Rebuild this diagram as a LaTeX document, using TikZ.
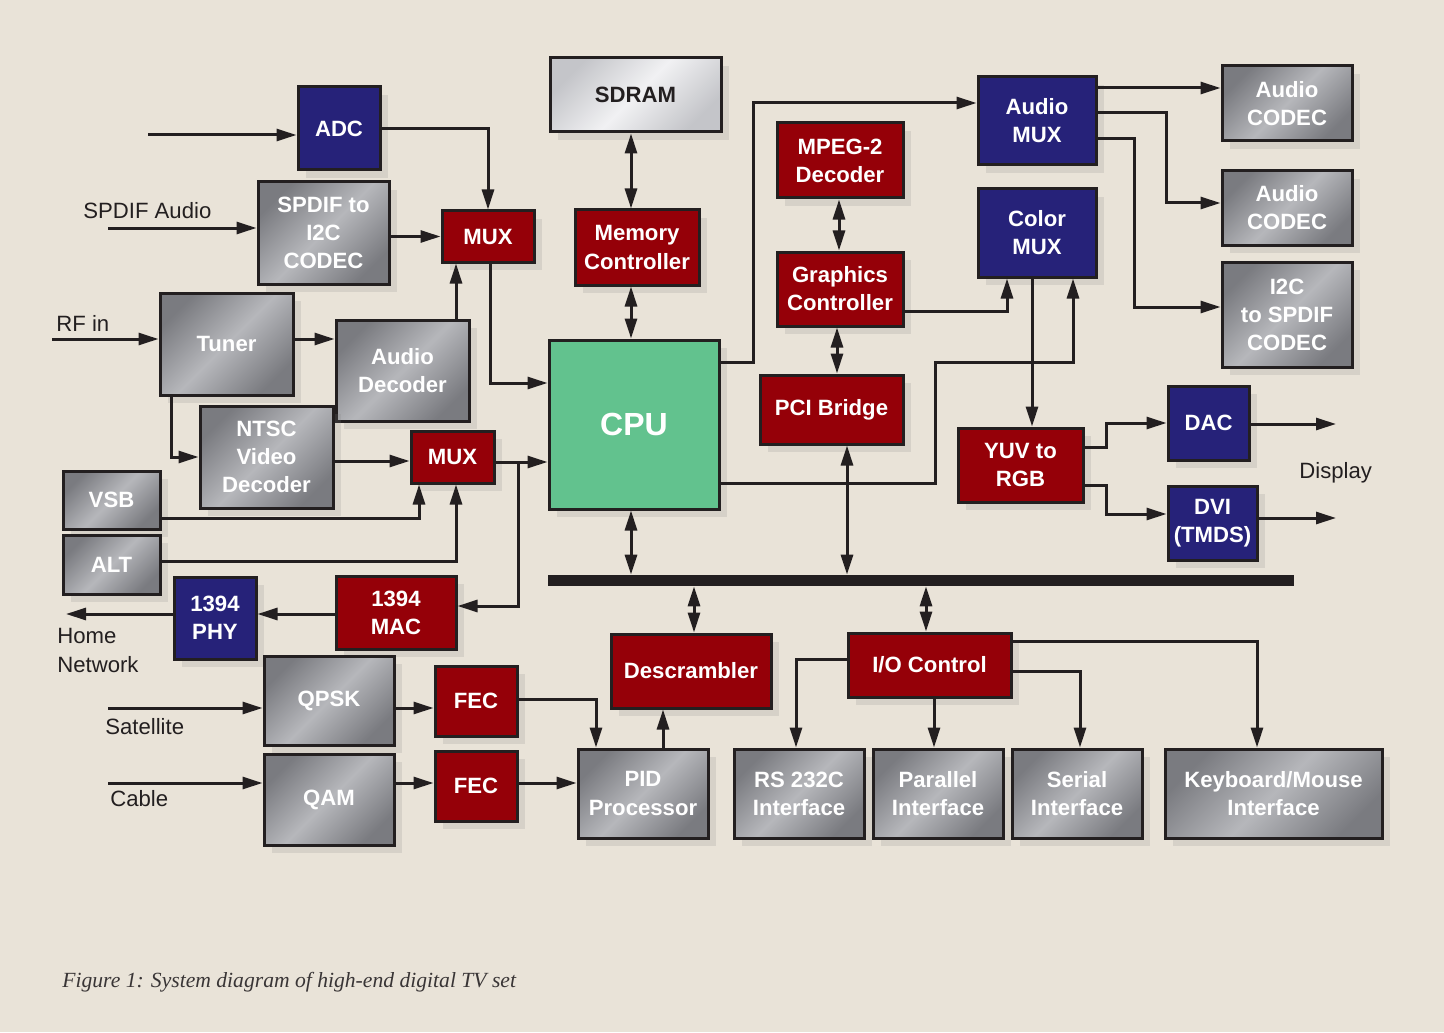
\documentclass[tikz,border=0pt]{standalone}
\usepackage{fontspec}
\setmainfont{Liberation Sans}
\newfontfamily\capfont{Liberation Serif}
\usetikzlibrary{arrows.meta,shadows}
\definecolor{tvpaper}{RGB}{233,227,216}
\definecolor{tvedge}{RGB}{35,31,32}
\definecolor{tvred}{RGB}{149,0,8}
\definecolor{tvblue}{RGB}{38,34,121}
\definecolor{tvgreen}{RGB}{98,194,142}
\definecolor{tvgraylo}{RGB}{122,123,128}
\definecolor{tvgrayhi}{RGB}{182,183,187}
\definecolor{tvsdlo}{RGB}{196,197,201}
\definecolor{tvsdhi}{RGB}{241,241,243}
\newcommand{\tvboxfont}{\fontsize{12.6}{16}\selectfont\bfseries}
\newcommand{\tvcpufont}{\fontsize{18.2}{22}\selectfont\bfseries}
\newcommand{\tvlblfont}{\fontsize{12.6}{16}\selectfont}

\tikzset{
  blk/.style 2 args={draw=tvedge, line width=0.6mm, minimum width=#1*0.2mm,
    minimum height=#2*0.2mm, inner sep=0pt, align=center, text=white, font=\tvboxfont,
    drop shadow={shadow xshift=1.6mm, shadow yshift=-1.6mm, opacity=0.18}},
  redblk/.style={fill=tvred},
  blueblk/.style={fill=tvblue},
  grayblk/.style={top color=tvgraylo, bottom color=tvgraylo, middle color=tvgrayhi, shading angle=45},
  arr/.style={draw=tvedge, line width=0.6mm, -{Triangle[length=4mm,width=2.4mm]}},
  darr/.style={draw=tvedge, line width=0.6mm,
    {Triangle[length=4mm,width=2.4mm]}-{Triangle[length=4mm,width=2.4mm]}},
  lbl/.style={font=\tvlblfont, text=tvedge, inner sep=0pt},
}

\begin{document}
\begin{tikzpicture}[x=0.2mm, y=-0.2mm]
  % Fundo
  \useasboundingbox (0,0) rectangle (1444,1032);
  \fill[tvpaper] (0,0) rectangle (1444,1032);

  % Blocos de entrada (esquerda)
  \node[blueblk, blk={82}{83}] (adc) at (339,128.5) {ADC};
  \node[grayblk, blk={131}{102}] (spdif) at (323.5,233) {SPDIF to\\I2C\\CODEC};
  \node[redblk, blk={92}{51}] (muxa) at (488,236.5) {MUX};
  \node[grayblk, blk={133}{102}] (tuner) at (226.5,344) {Tuner};
  \node[grayblk, blk={133}{101}] (adec) at (402.5,370.5) {Audio\\Decoder};
  \node[grayblk, blk={133}{102}] (ntsc) at (266.5,457) {NTSC\\Video\\Decoder};
  \node[redblk, blk={83}{52}] (muxb) at (452.5,457) {MUX};
  \node[grayblk, blk={97}{58}] (vsb) at (111.5,500) {VSB};
  \node[grayblk, blk={97}{59}] (alt) at (111.5,564.5) {ALT};
  \node[blueblk, blk={82}{82}] (phy) at (215,618) {1394\\PHY};
  \node[redblk, blk={120}{73}] (mac) at (396,612.5) {1394\\MAC};
  \node[grayblk, blk={130}{89}] (qpsk) at (329,700.5) {QPSK};
  \node[redblk, blk={82}{70}] (feca) at (476,701) {FEC};
  \node[grayblk, blk={130}{91}] (qam) at (329,799.5) {QAM};
  \node[redblk, blk={82}{70}] (fecb) at (476,786) {FEC};

  % CPU, memoria e controladores
  \node[blk={171}{74}, top color=tvsdlo, bottom color=tvsdlo, middle color=tvsdhi,
    shading angle=45, text=tvedge] (sdram) at (635.5,95) {SDRAM};
  \node[redblk, blk={124}{75}] (memctl) at (637,247.5) {Memory\\Controller};
  \node[blk={170}{169}, fill=tvgreen, font=\tvcpufont] (cpu) at (634,424.5) {CPU};
  \node[redblk, blk={126}{75}] (mpeg) at (840,160.5) {MPEG-2\\Decoder};
  \node[redblk, blk={126}{74}] (gfx) at (840,289) {Graphics\\Controller};
  \node[redblk, blk={143}{69}] (pci) at (831.5,409.5) {PCI Bridge};

  % Saidas de audio e video (direita)
  \node[blueblk, blk={118}{88}] (amux) at (1037,121) {Audio\\MUX};
  \node[blueblk, blk={118}{88}] (cmux) at (1037,233) {Color\\MUX};
  \node[grayblk, blk={130}{75}] (codeca) at (1287,103.5) {Audio\\CODEC};
  \node[grayblk, blk={130}{74}] (codecb) at (1287,208) {Audio\\CODEC};
  \node[grayblk, blk={130}{105}] (i2cspdif) at (1287,314.5) {I2C\\to SPDIF\\CODEC};
  \node[redblk, blk={125}{74}] (yuv) at (1020.5,465) {YUV to\\RGB};
  \node[blueblk, blk={81}{74}] (dac) at (1208.5,423) {DAC};
  \node[blueblk, blk={89}{74}] (dvi) at (1212.5,523) {DVI\\(TMDS)};

  % Barramento e perifericos (embaixo)
  \node[fill=tvedge, minimum width=746*0.2mm, minimum height=11*0.2mm, inner sep=0pt]
    (bus) at (921,580.5) {};
  \node[redblk, blk={160}{74}] (descr) at (691,671) {Descrambler};
  \node[redblk, blk={163}{64}] (ioctl) at (929.5,665) {I/O Control};
  \node[grayblk, blk={130}{89}] (pid) at (643,793.5) {PID\\Processor};
  \node[grayblk, blk={130}{89}] (rs) at (799,793.5) {RS 232C\\Interface};
  \node[grayblk, blk={130}{89}] (par) at (938,793.5) {Parallel\\Interface};
  \node[grayblk, blk={130}{89}] (ser) at (1077,793.5) {Serial\\Interface};
  \node[grayblk, blk={217}{89}] (kbd) at (1273.5,793.5) {Keyboard/Mouse\\Interface};

  % Rotulos
  \node[lbl, anchor=base west] (spdiflbl) at (83,219) {SPDIF Audio};
  \node[lbl, anchor=base west] (rflbl) at (56,331) {RF in};
  \node[lbl, anchor=base west, align=left] (homelbl) at (57,672) {Home\\Network};
  \node[lbl, anchor=base west] (satlbl) at (105,734) {Satellite};
  \node[lbl, anchor=base west] (cablelbl) at (110,806) {Cable};
  \node[lbl, anchor=base west] (displbl) at (1299,478) {Display};
  \node[lbl, anchor=base west, text=tvedge!90, font={\capfont\itshape\fontsize{12.3}{15}\selectfont}]
    (caption) at (62,987) {Figure 1: System diagram of high-end digital TV set};

  % Pontas livres
  \coordinate (adcin) at (148,135);
  \coordinate (spdifin) at (108,228);
  \coordinate (rfin) at (52,339);
  \coordinate (homenet) at (66,614);
  \coordinate (satin) at (108,708);
  \coordinate (cablein) at (108,783);
  \coordinate (dacout) at (1336,424);
  \coordinate (dviout) at (1336,518);
  \coordinate (tap) at (518,462);

  % Ligacoes: entradas de audio
  \draw[arr] (adcin) -- (adcin -| adc.west);
  \draw[arr] (adc.east) -| (muxa.north);
  \draw[arr] (spdifin) -- (spdifin -| spdif.west);
  \draw[arr] (muxa.west -| spdif.east) -- (muxa.west);
  \draw[arr] (muxa.south -| 490,0) |- (cpu.west |- 0,383);
  \draw[arr] (adec.north -| 456,0) -- (muxa.south -| 456,0);

  % Ligacoes: sintonizador e video
  \draw[arr] (rfin) -- (rfin -| tuner.west);
  \draw[arr] (tuner.east |- 0,339) -- (adec.west |- 0,339);
  \draw[arr] (tuner.south -| 171,0) |- (ntsc.west);
  \draw[arr] (ntsc.east |- 0,461) -- (muxb.west |- 0,461);
  \draw[arr] (vsb.east |- 0,518) -| (muxb.south -| 419,0);
  \draw[arr] (alt.east |- 0,561) -| (muxb.south -| 456,0);
  \draw[arr] (muxb.east |- 0,462) -- (cpu.west |- 0,462);
  \draw[arr] (tap) |- (mac.east |- 0,606);
  \draw[arr] (mac.west |- 0,614) -- (phy.east |- 0,614);
  \draw[arr] (phy.west |- 0,614) -- (homenet);

  % Ligacoes: CPU, memoria, graficos
  \draw[darr] (sdram.south -| 631,0) -- (memctl.north -| 631,0);
  \draw[darr] (memctl.south -| 631,0) -- (cpu.north -| 631,0);
  \draw[darr] (cpu.south -| 631,0) -- (bus.north -| 631,0);
  \draw[arr] (cpu.east |- 0,362) -| (753,103) -- (amux.west |- 0,103);
  \draw[darr] (mpeg.south -| 839,0) -- (gfx.north -| 839,0);
  \draw[darr] (gfx.south -| 837,0) -- (pci.north -| 837,0);
  \draw[darr] (pci.south -| 847,0) -- (bus.north -| 847,0);
  \draw[arr] (gfx.east |- 0,311) -| (cmux.south -| 1007,0);
  \draw[arr] (cpu.east |- 0,483) -| (935,362) -| (cmux.south -| 1073,0);
  \draw[arr] (cmux.south -| 1032,0) -- (yuv.north -| 1032,0);

  % Ligacoes: saidas
  \draw[arr] (amux.east |- 0,88) -- (codeca.west |- 0,88);
  \draw[arr] (amux.east |- 0,113) -| (1166,203) -- (codecb.west |- 0,203);
  \draw[arr] (amux.east |- 0,139) -| (1134,307) -- (i2cspdif.west |- 0,307);
  \draw[arr] (yuv.east |- 0,447) -| (1106,423) -- (dac.west |- 0,423);
  \draw[arr] (yuv.east |- 0,485) -| (1106,514) -- (dvi.west |- 0,514);
  \draw[arr] (dac.east |- 0,424) -- (dacout);
  \draw[arr] (dvi.east |- 0,518) -- (dviout);

  % Ligacoes: barramento, demodulacao e E/S
  \draw[darr] (bus.south -| 694,0) -- (descr.north -| 694,0);
  \draw[darr] (bus.south -| 926,0) -- (ioctl.north -| 926,0);
  \draw[arr] (satin) -- (satin -| qpsk.west);
  \draw[arr] (qpsk.east |- 0,708) -- (feca.west |- 0,708);
  \draw[arr] (feca.east |- 0,699) -| (pid.north -| 596,0);
  \draw[arr] (pid.north -| 663,0) -- (descr.south -| 663,0);
  \draw[arr] (cablein) -- (cablein -| qam.west);
  \draw[arr] (qam.east |- 0,783) -- (fecb.west |- 0,783);
  \draw[arr] (fecb.east |- 0,783) -- (pid.west |- 0,783);
  \draw[arr] (ioctl.west |- 0,659) -| (rs.north -| 796,0);
  \draw[arr] (ioctl.south -| 934,0) -- (par.north -| 934,0);
  \draw[arr] (ioctl.east |- 0,671) -| (ser.north -| 1080,0);
  \draw[arr] (ioctl.east |- 0,641) -| (kbd.north -| 1257,0);
\end{tikzpicture}
\end{document}
